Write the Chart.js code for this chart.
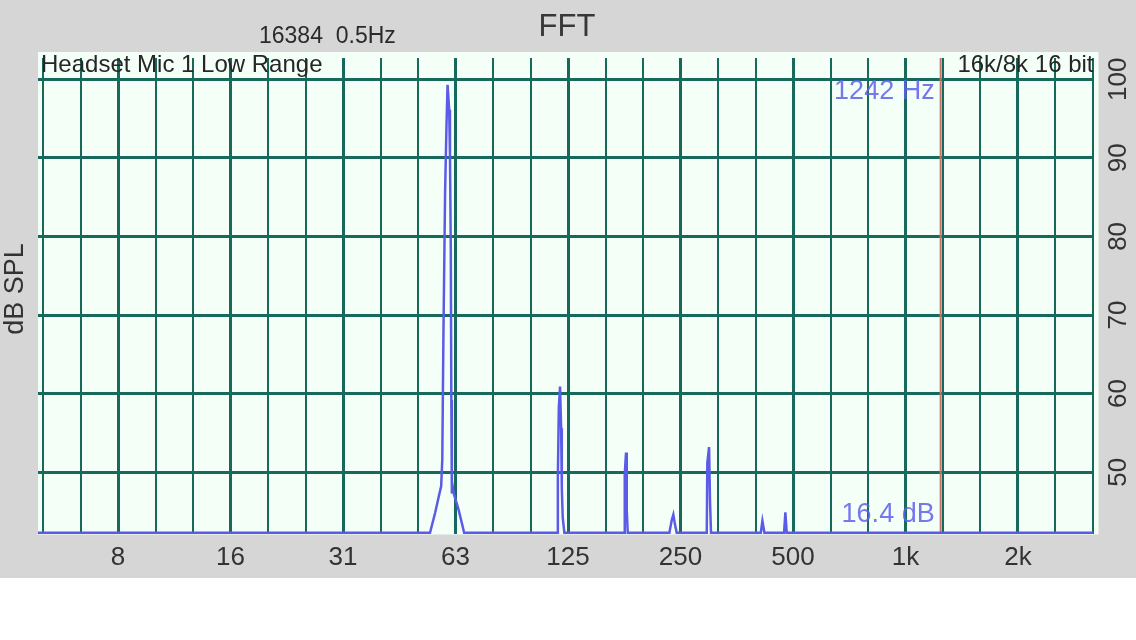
<!DOCTYPE html>
<html>
<head>
<meta charset="utf-8">
<script src="https://cdn.jsdelivr.net/npm/chart.js@4/dist/chart.umd.min.js"></script>
<style>
html,body{margin:0;padding:0;background:#ffffff;}
canvas{display:block;}
</style>
</head>
<body>
<canvas id="c" width="1136" height="640"></canvas>
<script>
// ---- data ----
const freqHz = [4.77, 53.4, 55.1, 56.6, 57.2, 57.6, 58.0, 58.6, 59.1, 59.5, 60.1, 60.4, 60.7, 60.9, 61.1, 61.5, 61.9, 63.7, 65.0, 65.9,
  117.1, 117.4, 118.1, 119.0, 119.8, 120.3, 121.0, 122.2,
  176.6, 177.3, 178.7, 179.5, 180.6,
  233.4, 236.9, 239.2, 241.7, 244.2,
  293.9, 294.9, 298.1, 299.9, 301.7,
  410.0, 414.1, 419.2,
  473.2, 477.0, 481.0,
  3175];
const levelDb = [42.3, 42.3, 44.8, 47.3, 48.2, 51.6, 67.3, 85.5, 94.0, 99.3, 96.1, 90.2, 78.3, 59.2, 47.3, 48.0, 47.2, 45.2, 43.5, 42.3,
  42.3, 49.3, 58.2, 60.9, 55.6, 48.0, 44.2, 42.3,
  42.3, 49.7, 52.5, 45.2, 42.3,
  42.3, 43.9, 44.6, 43.3, 42.3,
  42.3, 51.2, 53.2, 46.1, 42.3,
  42.3, 43.8, 42.3,
  42.3, 44.9, 42.3,
  42.3];
const gridHz = [4.92, 6.20, 7.8125, 9.84, 12.40, 15.625, 19.69, 24.80, 31.25, 39.37, 49.61, 62.5, 78.75, 99.21, 125,
  157.49, 198.43, 250, 314.98, 396.85, 500, 629.96, 793.70, 1000, 1259.92, 1587.40, 2000, 2519.84, 3174.80];
const gridLabels = ['', '', '8', '', '', '16', '', '', '31', '', '', '63', '', '', '125',
  '', '', '250', '', '', '500', '', '', '1k', '', '', '2k', '', ''];
const dbTicks = [50, 60, 70, 80, 90, 100];
const xMinHz = 4.77, xMaxHz = 3185;
const yMinDb = 42.2, yMaxDb = 102.7;
const cursorHz = 1242;
const cursorDb = 16.4;
const titleText = 'FFT';
const infoText = '16384  0.5Hz';
const deviceText = 'Headset Mic 1 Low Range';
const formatText = '16k/8k 16 bit';
const yTitle = 'dB SPL';

const FONT = '"Liberation Sans", Arial, Helvetica, sans-serif';
const GRID = '#17695c';

const points = freqHz.map((f, i) => ({x: f, y: levelDb[i]}));

const decor = {
  id: 'decor',
  beforeDraw(chart) {
    const {ctx, chartArea: a} = chart;
    ctx.save();
    ctx.fillStyle = '#ffffff';
    ctx.fillRect(0, 0, chart.width, chart.height);
    ctx.fillStyle = '#d6d6d6';
    ctx.fillRect(0, 0, chart.width, 578);
    ctx.fillStyle = '#f3fff7';
    ctx.fillRect(a.left, 52, a.right + 5 - a.left, a.bottom + 1 - 52);
    ctx.restore();
  },
  beforeDatasetsDraw(chart) {
    const {ctx, chartArea: a} = chart;
    const x = chart.scales.x.getPixelForValue(cursorHz);
    ctx.save();
    ctx.strokeStyle = '#c8736b';
    ctx.lineWidth = 2;
    ctx.beginPath();
    ctx.moveTo(x, a.top);
    ctx.lineTo(x, a.bottom);
    ctx.stroke();
    ctx.restore();
  },
  afterDraw(chart) {
    const {ctx, chartArea: a} = chart;
    const xs = chart.scales.x, ys = chart.scales.y;
    ctx.save();
    // titles
    ctx.fillStyle = '#383838';
    ctx.textBaseline = 'middle';
    ctx.textAlign = 'center';
    ctx.font = '31px ' + FONT;
    ctx.fillText(titleText, 567, 27);
    ctx.font = '23px ' + FONT;
    ctx.textAlign = 'left';
    ctx.fillStyle = '#2a2a2a';
    ctx.fillText(infoText, 259, 37);
    // corner labels
    ctx.textBaseline = 'alphabetic';
    ctx.font = '24px ' + FONT;
    ctx.fillStyle = '#262626';
    ctx.textAlign = 'left';
    ctx.fillText(deviceText, 41, 72);
    ctx.textAlign = 'right';
    ctx.fillText(formatText, a.right, 72);
    // cursor readouts
    const cx = xs.getPixelForValue(cursorHz);
    ctx.fillStyle = 'rgba(95,95,235,0.85)';
    ctx.font = '27px ' + FONT;
    ctx.textAlign = 'right';
    ctx.textBaseline = 'middle';
    ctx.fillText(cursorHz + ' Hz', cx - 6, 92);
    ctx.fillText(cursorDb.toFixed(1) + ' dB', cx - 6, 515);
    // rotated right-hand dB labels
    ctx.fillStyle = '#333333';
    ctx.font = '26px ' + FONT;
    ctx.textAlign = 'center';
    ctx.textBaseline = 'middle';
    dbTicks.forEach(v => {
      const label = String(v);
      const half = ctx.measureText(label).width / 2;
      let y = ys.getPixelForValue(v);
      if (y - half < 48) y = 48 + half;
      ctx.save();
      ctx.translate(1119, y);
      ctx.rotate(-Math.PI / 2);
      ctx.fillText(label, 0, 0);
      ctx.restore();
    });
    // left axis title
    ctx.font = '27px ' + FONT;
    ctx.fillStyle = '#333333';
    ctx.save();
    ctx.translate(16, 289);
    ctx.rotate(-Math.PI / 2);
    ctx.fillText(yTitle, 0, 0);
    ctx.restore();
    ctx.restore();
  }
};

new Chart(document.getElementById('c'), {
  type: 'line',
  data: {
    datasets: [{
      data: points,
      borderColor: '#5b5be8',
      borderWidth: 2.5,
      pointRadius: 0,
      tension: 0,
      fill: false,
      clip: 4
    }]
  },
  options: {
    responsive: false,
    animation: false,
    devicePixelRatio: 1,
    layout: {padding: {left: 38, right: 42.5, top: 58, bottom: 57.3}},
    plugins: {legend: {display: false}, tooltip: {enabled: false}, title: {display: false}},
    scales: {
      x: {
        type: 'logarithmic',
        min: xMinHz,
        max: xMaxHz,
        afterBuildTicks: axis => { axis.ticks = gridHz.map(v => ({value: v})); },
        grid: {
          color: GRID,
          lineWidth: c => (gridLabels[c.index] ? 3 : 2),
          drawTicks: false
        },
        border: {display: false},
        ticks: {
          autoSkip: false,
          maxRotation: 0,
          minRotation: 0,
          padding: 9,
          color: '#333333',
          font: {family: FONT, size: 26},
          callback: (v, i) => gridLabels[i]
        }
      },
      y: {
        type: 'linear',
        position: 'right',
        min: yMinDb,
        max: yMaxDb,
        afterBuildTicks: axis => { axis.ticks = dbTicks.map(v => ({value: v})); },
        grid: {color: GRID, lineWidth: 3, drawTicks: false},
        border: {display: false},
        ticks: {display: false}
      }
    }
  },
  plugins: [decor]
});
</script>
</body>
</html>
